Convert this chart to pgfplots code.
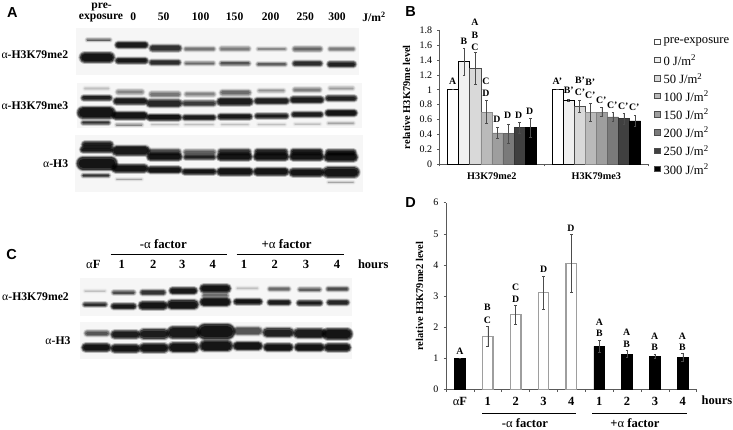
\documentclass[border=0pt]{standalone}
\usepackage{fontspec}
\setmainfont{Liberation Serif}
\newfontfamily\hv{Liberation Sans}
\usepackage{pgfplots}
\pgfplotsset{compat=1.18}
\definecolor{axc}{gray}{0.35}
\definecolor{errc}{gray}{0.3}
\newcommand{\fs}[1]{\fontsize{#1}{#1}\selectfont}
\newcommand{\al}{{\mdseries α}}
\newcommand{\band}[5]{%
 \draw[line cap=round,line width=(#4*1.2+12)*0.3333pt,opacity=0.10*#5] (#1,#3)--(#2,#3);
 \draw[line cap=round,line width=(#4*1.2+9)*0.3333pt,opacity=0.16*#5] (#1,#3)--(#2,#3);
 \draw[line cap=round,line width=(#4*1.2+6)*0.3333pt,opacity=0.22*#5] (#1,#3)--(#2,#3);
 \draw[line cap=round,line width=(#4*1.2+3)*0.3333pt,opacity=0.32*#5] (#1,#3)--(#2,#3);
 \draw[line cap=round,line width=(#4*1.2)*0.3333pt,opacity=0.45*#5] (#1,#3)--(#2,#3);
 \draw[line cap=round,line width={max(#4-3,1)*0.3333pt},opacity=0.6*#5] (#1,#3)--(#2,#3);}
\pgfplotsset{
 common/.style={
  scale only axis, axis x line*=bottom, axis y line*=left,
  axis line style={-,color=axc,line width=0.5pt},
  tick align=outside, tick style={color=axc,line width=0.5pt},
  major tick length=2.5pt, minor tick length=2.5pt,
  ymin=0, enlargelimits=false,
  /pgf/number format/assume math mode=true,
  /pgf/number format/fixed,
  yticklabel style={font=\fs{10}, /pgf/number format/precision=1, inner sep=1pt, xshift=-4pt},
  ylabel style={font=\fs{10.4}\bfseries, inner sep=0pt},
  clip=false,
 },
 eb/.style={error bars/.cd, y dir=both, y explicit,
   error bar style={color=errc,line width=0.55pt},
   error mark options={rotate=90,mark size=1.3pt,color=errc,line width=0.55pt}},
}
\begin{document}
\begin{tikzpicture}
\useasboundingbox (0,0) rectangle (733pt,-430pt);

% ---------- blots panel A
\begin{scope}[x=0.3333pt,y=-0.3333pt]
\fill[gray!7] (228,85) rectangle (1078,225);
\fill[gray!7] (232,248) rectangle (1085,385);
\fill[gray!7] (226,405) rectangle (1088,575);
\foreach \a/\b/\y/\w/\d in {
 262/330/120/5/.45, 355/435/135/14/.92, 458/535/145/15/.72, 558/640/147/9/.35, 665/745/147/10/.33, 775/855/147/7/.28, 885/960/147/11/.42, 990/1060/147/8/.33,
 255/328/172/24/1, 355/435/182/13/.95, 455/535/187/11/.75, 558/640/190/7/.4, 665/745/190/9/.5, 775/855/193/8/.45, 885/960/191/11/.75, 990/1060/193/12/.85,
 255/325/266/6/.12, 355/425/276/11/.3, 455/535/283/12/.35, 560/640/283/10/.3, 668/745/278/13/.4, 778/850/272/8/.25, 885/958/270/10/.32, 990/1058/265/7/.22,
 252/328/294/12/.85, 350/432/304/15/.9, 450/535/310/17/.8, 555/640/310/13/.65, 662/748/305/17/.9, 772/858/303/14/.85, 880/962/300/15/.9, 985/1062/295/13/.85,
 250/328/338/28/1, 348/432/347/17/1, 450/535/352/14/1, 555/640/353/11/.9, 662/748/350/13/.95, 772/858/348/11/.9, 882/962/344/11/.9, 985/1062/339/14/1,
 250/325/368/8/.7, 350/425/375/5/.3, 455/535/373/4/.12, 555/640/373/4/.12, 665/745/373/4/.12, 775/855/373/4/.12, 885/960/372/4/.12, 985/1060/370/5/.2,
 255/330/434/14/.9, 250/330/449/14/.95, 350/435/452/22/.95, 452/535/455/12/.55, 452/535/470/17/1, 558/640/457/12/.45, 558/640/472/10/.85, 662/745/455/12/.7, 662/745/470/17/1, 772/855/455/12/.8, 772/855/470/17/1, 880/960/455/12/.88, 880/960/470/17/1, 985/1060/457/12/.88, 985/1060/472/20/1,
 250/332/490/31/1, 348/432/505/19/1, 452/535/510/15/1, 555/640/515/13/1, 662/748/515/17/1, 772/855/515/17/1, 880/960/517/19/1, 985/1062/517/25/1,
 250/325/527/6/.7, 350/425/538/3/.2, 985/1060/547/3/.2}
 {\band{\a}{\b}{\y}{\w}{\d}}
\end{scope}

% ---------- blots panel C
\begin{scope}[x=0.3333pt,y=-0.3333pt,shift={(0pt,-200pt)}]
\fill[gray!7] (240,235) rectangle (1055,348);
\fill[gray!7] (240,365) rectangle (1055,478);
\foreach \a/\b/\y/\w/\d in {
 255/315/273/4/.12, 342/400/278/9/.55, 428/490/277/11/.7, 518/582/272/15/.95, 612/680/266/19/1, 712/772/265/5/.12, 810/865/267/9/.4, 900/958/269/9/.45, 985/1040/267/9/.55,
 612/680/286/9/.4,
 255/315/314/9/.75, 342/400/319/13/.95, 428/490/317/19/1, 515/582/314/21/1, 612/680/306/19/1, 710/778/305/13/1, 810/865/307/11/.9, 898/960/309/11/.9, 988/1040/307/11/.8,
 262/320/400/13/.5, 345/408/404/19/.9, 432/492/402/23/.9, 520/582/398/29/.95, 615/682/395/36/1, 712/775/393/19/.5, 802/868/398/21/.85, 895/962/400/23/.9, 985/1040/402/27/1,
 258/320/443/19/1, 345/408/446/19/1, 432/492/444/21/1, 520/582/442/23/1, 615/682/438/25/1, 712/775/438/19/1, 802/868/442/17/1, 895/962/442/17/1, 985/1040/443/19/1}
 {\band{\a}{\b}{\y}{\w}{\d}}
\end{scope}

% ---------- chart B
\begin{axis}[common, at={(439.7pt,-164pt)}, anchor=south west,
 width=208.7pt, height=133.7pt,
 xmin=-0.5, xmax=1.5, ymax=1.8, ytick distance=0.2,
 xtick={0,1}, xticklabels={H3K79me2,H3K79me3},
 xticklabel style={font=\fs{10.2}\bfseries, yshift=-3pt},
 minor xtick={-0.5,0.5,1.5},
 major x tick style={draw=none},
 ylabel={relative H3K79me level}, ylabel shift=8pt,
 ybar=0pt, bar width=11.1pt]
\addplot[fill=white,draw=black,line width=0.6pt,eb] coordinates {(0,1) +- (0,0) (1,1) +- (0,0)};
\addplot[fill=black!6,draw=black,line width=0.6pt,eb] coordinates {(0,1.38) +- (0,0.18) (1,0.855) +- (0,0.012)};
\addplot[fill=black!15,draw=black!70,line width=0.4pt,eb] coordinates {(0,1.29) +- (0,0.21) (1,0.775) +- (0,0.08)};
\addplot[fill=black!27,draw=black!45,line width=0.4pt,eb] coordinates {(0,0.70) +- (0,0.155) (1,0.695) +- (0,0.12)};
\addplot[fill=black!38,draw=black!50,line width=0.4pt,eb] coordinates {(0,0.42) +- (0,0.08) (1,0.70) +- (0,0.06)};
\addplot[fill=black!52,draw=black!60,line width=0.4pt,eb] coordinates {(0,0.41) +- (0,0.13) (1,0.635) +- (0,0.06)};
\addplot[fill=black!75,draw=black!80,line width=0.4pt,eb] coordinates {(0,0.49) +- (0,0.07) (1,0.61) +- (0,0.07)};
\addplot[fill=black,draw=black,line width=0.4pt,eb] coordinates {(0,0.49) +- (0,0.125) (1,0.58) +- (0,0.07)};
\end{axis}

% ---------- chart D
\begin{axis}[common, at={(446pt,-389.3pt)}, anchor=south west,
 width=250.7pt, height=186.6pt,
 xmin=-0.5, xmax=8.5, ymax=6, ytick distance=1,
 xtick={0,...,8}, xticklabels={{\al F},1,2,3,4,1,2,3,4},
 xticklabel style={font=\fs{12.5}\bfseries, yshift=-2pt},
 minor xtick={-0.5,0.5,...,8.5},
 major x tick style={draw=none},
 ylabel={relative H3K79me2 level}, ylabel shift=9pt,
 ybar=0pt, bar width=10.6pt]
\addplot[forget plot,bar shift=0pt,fill=white,draw=black!38,line width=1.2pt,eb] coordinates {(1,1.7) +- (0,0.33) (2,2.4) +- (0,0.3) (3,3.1) +- (0,0.52) (4,4.04) +- (0,0.93)};
\addplot[forget plot,bar shift=0pt,fill=black,draw=black,line width=0.8pt,eb] coordinates {(0,1) +- (0,0) (5,1.38) +- (0,0.2) (6,1.13) +- (0,0.11) (7,1.06) +- (0,0.07) (8,1.03) +- (0,0.13)};
\end{axis}

% ---------- text A (zoom units)
\begin{scope}[x=0.3333pt,y=-0.3333pt, every node/.style={inner sep=0pt}]
\node[font=\hv\fs{14.5}\bfseries] at (37,39) {A};
\foreach \x/\y/\t in {305/22/pre-, 303/54/exposure, 400/50/0, 491/50/50, 602/50/100, 704/50/150, 812/50/200, 916/50/250, 1011/50/300}
 {\node[font=\fs{11.6}\bfseries] at (\x,\y) {\t};}
\node[font=\fs{11.6}\bfseries] at (1122,50) {J/m\textsuperscript{2}};
\foreach \y/\t in {165/\al-H3K79me2, 318/\al-H3K79me3, 491/\al-H3}
 {\node[font=\fs{11.7}\bfseries,anchor=east] at (205,\y) {\t};}
\end{scope}

% ---------- text C
\begin{scope}[x=0.3333pt,y=-0.3333pt,shift={(0pt,-200pt)}, every node/.style={inner sep=0pt}]
\node[font=\hv\fs{14.5}\bfseries] at (35,165) {C};
\foreach \x/\t in {490/-\al{} factor, 860/+\al{} factor}
 {\node[font=\fs{12.8}\bfseries] at (\x,132) {\t};}
\draw[line width=0.8pt] (332,163)--(680,163);
\draw[line width=0.8pt] (710,163)--(1033,163);
\foreach \x/\t in {280/\al F, 365/1, 460/2, 547/3, 638/4, 732/1, 824/2, 918/3, 1011/4, 1120/hours}
 {\node[font=\fs{12.5}\bfseries] at (\x,194) {\t};}
\node[font=\fs{11.7}\bfseries,anchor=east] at (207,291) {\al-H3K79me2};
\node[font=\fs{11.7}\bfseries,anchor=east] at (212,422) {\al-H3};
\end{scope}

% ---------- text B
\begin{scope}[x=0.3333pt,y=-0.3333pt,shift={(400pt,0pt)}, every node/.style={inner sep=0pt}]
\node[font=\hv\fs{14.5}\bfseries] at (32,35) {B};
\foreach \x/\y/\t in {158/243/A, 192/125/B, 225/68/A, 225/105/B, 225/141/C, 258/243/C, 258/280/D, 291/357/D, 323/347/D, 356/345/D, 389/333/D,
 472/245/A', 506/272/B', 540/242/B', 540/278/C', 571/248/B', 571/285/C', 604/302/C', 637/315/C', 670/320/C', 703/323/C'}
 {\node[font=\fs{9.8}\bfseries] at (\x,\y) {\t};}
\foreach \y/\c/\t in {125/white/pre-exposure, 180/black!6/0, 235/black!15/50, 288/black!27/100, 343/black!38/150, 397/black!52/200, 452/black!75/250, 507/black/300}
 {\draw[fill=\c,draw=black!70,line width=0.4pt] (764,\y-8) rectangle (780,\y+8);
  \ifnum\y=125 \node[font=\fs{12.6},anchor=west] at (790,\y) {\t};
  \else \node[font=\fs{12.6},anchor=west] at (790,\y) {\t{} J/m\textsuperscript{2}};\fi}
\end{scope}

% ---------- text D
\begin{scope}[x=0.3333pt,y=-0.3333pt,shift={(400pt,-190pt)}, every node/.style={inner sep=0pt}]
\node[font=\hv\fs{14.5}\bfseries] at (32,38) {D};
\foreach \x/\y/\t in {180/484/A, 262/353/B, 262/390/C, 347/291/C, 347/327/D, 431/238/D, 513/116/D, 598/396/A, 598/431/B, 680/428/A, 680/463/B, 764/438/A, 764/472/B, 847/438/A, 847/472/B}
 {\node[font=\fs{9.8}\bfseries] at (\x,\y) {\t};}
\node[font=\fs{12.5}\bfseries] at (951,632) {hours};
\draw[line width=0.8pt] (247,670)--(527,670);
\draw[line width=0.8pt] (577,670)--(860,670);
\node[font=\fs{12.6}\bfseries] at (375,700) {-\al{} factor};
\node[font=\fs{12.6}\bfseries] at (705,700) {+\al{} factor};
\end{scope}
\end{tikzpicture}
\end{document}
